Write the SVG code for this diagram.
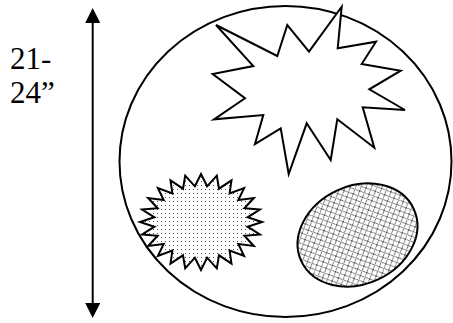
<svg xmlns="http://www.w3.org/2000/svg" width="453" height="323" viewBox="0 0 453 323">
<style>
.ln{fill:none;stroke:#000;stroke-width:2}
.shape{stroke:#000;stroke-width:2;stroke-linejoin:miter}
.lbl{font-family:"Liberation Serif","Times New Roman",serif;font-size:31px;fill:#000}
</style>
<defs>
<pattern id="dots" width="4" height="4" patternUnits="userSpaceOnUse">
<rect width="4" height="4" fill="#fff"/>
<rect x="1" y="1" width="1" height="1" fill="#555"/>
</pattern>
<pattern id="hatch" width="7" height="7" patternUnits="userSpaceOnUse">
<rect width="7" height="7" fill="#fff"/>
<path d="M0,0 L7,7 M7,0 L0,7 M-1,6 L1,8 M6,-1 L8,1 M-1,1 L1,-1 M6,8 L8,6" stroke="#666" stroke-width="1"/>
</pattern>
<marker id="ah" viewBox="0 0 10 10" refX="0" refY="5" markerWidth="7.5" markerHeight="7.5" markerUnits="strokeWidth" orient="auto-start-reverse">
<path d="M0,0 L10,5 L0,10 z" fill="#000"/>
</marker>
</defs>
<g id="label">
<text class="lbl" x="10" y="69">21-</text>
<text class="lbl" x="10" y="103">24”</text>
</g>
<g id="connectors">
<line class="ln" x1="92.7" y1="23" x2="92.7" y2="303" marker-start="url(#ah)" marker-end="url(#ah)"/>
</g>
<g id="outline">
<ellipse class="ln" cx="285.5" cy="161.5" rx="166" ry="155.5"/>
</g>
<g id="big-star">
<polygon class="shape" fill="#fff" points="216,25 277.3,56 287.3,25 309,51.7 341.7,6.7 337.7,48.3 376,41.7 361.7,64 400.7,70.7 369.3,89.3 405,110 362.7,107.3 374.3,147.7 337.3,119.3 330.7,160 306.7,123.3 288.7,174 280.7,128.3 255,144 263.3,115 214,119.3 245,98.3 212.7,74 253.3,66"/>
</g>
<g id="dotted-star">
<polygon class="shape" fill="url(#dots)" points="262,222 247.6,226.7 259.9,234.4 244.4,235.8 253.8,246 238.3,243.9 244.1,255.9 229.6,250.6 231.5,263.6 219,255.3 216.8,268.4 207.1,257.7 201,270 194.9,257.7 185.2,268.4 183,255.3 170.5,263.6 172.4,250.6 157.9,255.9 163.7,243.9 148.2,246 157.6,235.8 142.1,234.4 154.4,226.7 140,222 154.4,217.3 142.1,209.6 157.6,208.2 148.2,198 163.7,200.1 157.9,188.1 172.4,193.4 170.5,180.4 183,188.7 185.2,175.6 194.9,186.3 201,174 207.1,186.3 216.8,175.6 219,188.7 231.5,180.4 229.6,193.4 244.1,188.1 238.3,200.1 253.8,198 244.4,208.2 259.9,209.6 247.6,217.3"/>
</g>
<g id="hatched-ellipse">
<ellipse class="shape" fill="url(#hatch)" cx="357.5" cy="235" rx="62" ry="49" transform="rotate(-25 357.5 235)"/>
</g>
</svg>
